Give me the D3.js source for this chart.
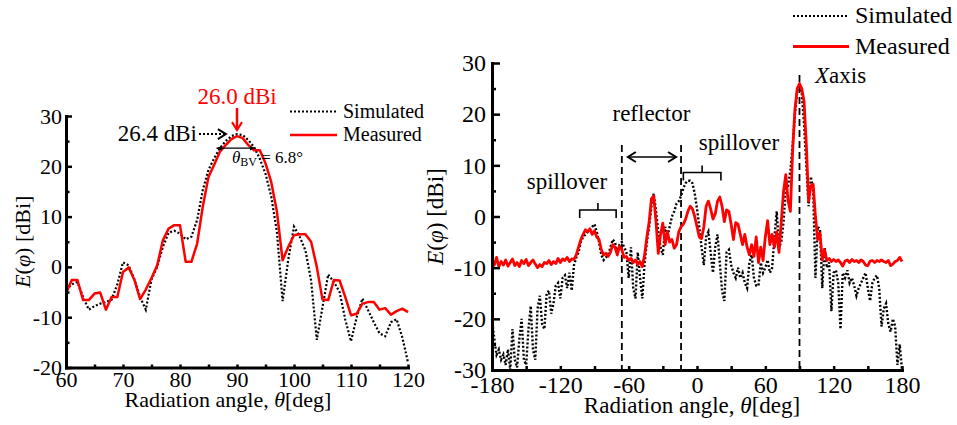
<!DOCTYPE html>
<html>
<head>
<meta charset="utf-8">
<script src="https://cdn.jsdelivr.net/npm/d3@7"></script>
<style>
  body { margin: 0; background: #fff; }
  svg { display: block; font-family: "Liberation Serif", "Times New Roman", serif; }
</style>
</head>
<body>
<svg id="fig" width="957" height="425"></svg>
<script>
// ---- Left panel: main beam, 60..120 deg, 1 deg step ----
const leftAngles = d3.range(60, 121, 1);
const leftSimulated = [
  -4.5, -3.5, -3, -6, -8.5, -7.8, -7.3, -7, -6.5, -3.5,
  0.9, 0.3, -2.5, -6, -8.5, -2.5, 0, 4, 6.8, 7.2,
  6.6, 5.5, 6, 9.3, 15.3, 19.3, 21.6, 23.6, 25, 26,
  26.4, 26.2, 25.2, 23.8, 21.5, 18.5, 14, 7, -6.8, 1.5,
  8, 6, 3.3, -2.7, -14.5, -8, -1.5, -3, -5, -10.5,
  -14.8, -10, -6.3, -8.6, -11, -13.2, -13.8, -11, -10.4, -14,
  -19
];
const leftMeasured = [
  -5.3, -2.6, -2.6, -6.6, -6.6, -5.3, -5.1, -8.5, -6, -6,
  -1, -0.1, -2.6, -6.4, -4.5, -2.2, 0.3, 5.3, 7.6, 8.3,
  8.3, 1, 1, 4.6, 12, 17.9, 20.3, 22.9, 24.2, 25.4,
  26, 25.6, 24.2, 23.2, 23.2, 20.6, 16.9, 11, 1.3, 4,
  6.3, 6.5, 6.5, 5, 0, -6.5, -6.6, -2.6, -2.7, -6,
  -9.6, -9.3, -7.3, -7, -7, -8.5, -8.2, -9.5, -8.8, -8.3,
  -9
];
const leftXTicks = [60, 70, 80, 90, 100, 110, 120];
const leftYTicks = [-20, -10, 0, 10, 20, 30];
const simPeak = 26.4, simPeakAngle = 88.4;
const measPeak = 26.0, measPeakAngle = 90;
const beamwidth = 6.8, beamCenter = 89.8, beamLevel = 23.6;

// ---- Right panel: full cut, -180..180 deg, 2 deg step ----
const rightAngles = d3.range(-180, 181, 2);
const rightSimulated = [
  -20, -24, -27, -26, -28, -27, -29, -26, -30, -22,
  -28, -29.5, -24, -20, -28, -29, -22, -17.5, -26, -28,
  -18, -15.5, -21, -22, -15, -14.5, -19, -17, -13.5, -13,
  -16, -12, -11.5, -14, -11, -14.5, -9.5, -8, -7, -5,
  -4, -3.5, -3, -2.5, -2, -1.5, -3, -5, -7.5, -8.5,
  -8, -7.5, -6, -4.5, -5, -7, -5.5, -5, -6, -7,
  -12, -6, -14, -16, -7, -12, -16, -9, -5, -2,
  2, 4.5, 1, -3, -6, -7.5, -2, -4, -2, 0,
  1, 2.5, 3, 4, 5.5, 6.5, 7, 7, 6.5, 4.5,
  1.5, -2, -6, -9.5, -4, -3, -7, -11, -6, -3.5,
  -9, -14.5, -16.5, -7, -6.5, -9.5, -11, -12, -10, -12,
  -11, -13, -14, -9, -7.5, -12, -13.5, -13.5, -9, -11,
  -10, -8.5, -11, -10, -4, 1, -6, -5, -1, 5.5,
  6, 9, 14, 20, 24.5, 25.8, 24, 18, 10, 2,
  7.8, 5, -12, -2, -2.5, -14, -6, -10, -9, -18.5,
  -11, -10.5, -13, -22, -11, -12, -10.5, -13, -12, -13.5,
  -15.5, -14, -13, -12, -11, -14, -16.5, -13, -12, -11.5,
  -14, -21.5, -18, -17, -21, -22.5, -20, -21.5, -29, -25,
  -30
];
const rightMeasured = [
  -9, -9.5, -8, -9.8, -8.8, -9.5, -8.5, -9.7, -9, -8.3,
  -9.6, -9, -9.8, -8.6, -9.2, -8.4, -9.6, -9, -8.5, -9.3,
  -10, -9.4, -9.8, -9, -9.2, -8.6, -9.4, -8.8, -9.2, -8.2,
  -9, -8.3, -8.6, -8, -8.8, -8.3, -8.4, -7.5, -6, -4.5,
  -3.5, -2.6, -3, -2.4, -3.5, -2.8, -4, -4.5, -6.5, -7.5,
  -7.2, -7.8, -7, -5.5, -6, -7.5, -5.8, -6.5, -8, -7.8,
  -8.6, -8.2, -9, -8.5, -9.4, -8.8, -9.8, -7.5, -4, -1,
  3.5, 4, -1, -7.2, -3.5, -1.3, -5.5, -3, -5, -4.5,
  -6.2, -5.5, -3, -2, -1.5, -0.5, 1, 2, 1.5, 0,
  -2, -4, -4.3, -2, 2, 3, 1.5, -0.5, 0.5, 3,
  3.8, 2, -1, 1.3, 1, -1.5, -4.5, -1.2, -1.5, -3.5,
  -5.5, -3.5, -6, -7.5, -5.5, -7.8, -4, -9, -6, -8.6,
  -4, -0.8, -5.5, -3.5, -6, -3, -7, -1, 5, 8.2,
  3, 1, 13, 21, 25, 26, 25, 22.5, 14, 3,
  6, 6.3, 0, -4.5, -3.2, -8.5, -6.5, -8.6, -8.2, -8.8,
  -8.4, -8.8, -8.5, -9, -9.7, -8.7, -8.5, -9, -8.4, -8.8,
  -8.6, -9, -8.5, -8.8, -9.5, -9.6, -8.7, -8.6, -9, -8.6,
  -8.8, -8.5, -8.8, -9, -8.6, -9.6, -9.3, -8.8, -8.6, -8,
  -8.8
];
const rightXTicks = [-180, -120, -60, 0, 60, 120, 180];
const rightYTicks = [-30, -20, -10, 0, 10, 20, 30];
const reflectorEdges = [-66, -14];
const boresightAngle = 90;
const spillLeft = [-103, -71];   // bracket span of the rear spillover lobe
const spillRight = [-12, 21];    // bracket span of the forward spillover lobe
const seriesNames = ["Simulated", "Measured"];

const RED = "#ff0000";
const svg = d3.select("#fig");

const defs = svg.append("defs");
function chevron(id, color, size) {
  defs.append("marker").attr("id", id)
    .attr("viewBox", "-10 -6 12 12").attr("refX", 0).attr("refY", 0)
    .attr("markerWidth", size).attr("markerHeight", size)
    .attr("markerUnits", "userSpaceOnUse").attr("orient", "auto-start-reverse")
    .append("path").attr("d", "M-8,-5L0,0L-8,5")
    .attr("fill", "none").attr("stroke", color).attr("stroke-width", 2);
}
chevron("arrBlack", "#000", 12);
chevron("arrRed", RED, 12);
defs.append("marker").attr("id", "arrSmall")
  .attr("viewBox", "-8 -4 9 8").attr("refX", 0).attr("refY", 0)
  .attr("markerWidth", 7).attr("markerHeight", 6)
  .attr("markerUnits", "userSpaceOnUse").attr("orient", "auto-start-reverse")
  .append("path").attr("d", "M-7,-3L0,0L-7,3Z").attr("fill", "#000");

// inward ticks: majors carry labels, minors are unlabeled
function drawAxes(g, x, y, o) {
  const xt = d3.range(x.domain()[0], x.domain()[1] + 1e-9, o.xMinor);
  const yt = d3.range(y.domain()[0], y.domain()[1] + 1e-9, o.yMinor);
  const ax = g.append("g").attr("transform", `translate(0,${y.range()[0]})`)
    .call(d3.axisBottom(x).tickValues(xt).tickSizeOuter(0).tickSizeInner(-o.xTick)
      .tickPadding(o.xPad).tickFormat(d => o.xMajor.includes(d) ? String(d) : ""));
  const ay = g.append("g").attr("transform", `translate(${x.range()[0]},0)`)
    .call(d3.axisLeft(y).tickValues(yt).tickSizeOuter(0).tickSizeInner(-o.yTickMinor)
      .tickPadding(o.yPad).tickFormat(d => o.yMajor.includes(d) ? String(d) : ""));
  ay.selectAll(".tick").filter(d => o.yMajor.includes(d)).select("line").attr("x2", o.yTickMajor);
  [ax, ay].forEach(a => {
    a.select(".domain").attr("stroke", "#000").attr("stroke-width", 3).attr("stroke-linecap", "square");
    a.selectAll(".tick line").attr("stroke", "#000").attr("stroke-width", 2.5);
    a.selectAll("text").attr("font-family", "Liberation Serif").attr("font-size", o.font).attr("fill", "#000");
  });
}

function yTitle(g, x, yc, size) {
  const t = g.append("text").attr("transform", `translate(${x},${yc}) rotate(-90)`)
    .attr("text-anchor", "middle").attr("font-size", size);
  t.append("tspan").attr("font-style", "italic").text("E");
  t.append("tspan").text("(");
  t.append("tspan").attr("font-style", "italic").text("\u03c6");
  t.append("tspan").text(") [dBi]");
}
function xTitle(g, xc, y, size) {
  const t = g.append("text").attr("x", xc).attr("y", y).attr("text-anchor", "middle").attr("font-size", size);
  t.append("tspan").text("Radiation angle, ");
  t.append("tspan").attr("font-style", "italic").text("\u03b8");
  t.append("tspan").text("[deg]");
}
function legend(g, x0, x1, yS, yM, size, width) {
  [yS, yM].forEach((yy, i) => {
    g.append("line").attr("x1", x0).attr("x2", x1).attr("y1", yy).attr("y2", yy)
      .attr("stroke", i ? RED : "#000").attr("stroke-width", i ? width : 2)
      .attr("stroke-dasharray", i ? null : "2 2");
    g.append("text").attr("x", x1 + 6).attr("y", yy + size * 0.3).attr("font-size", size).text(seriesNames[i]);
  });
}

// ================= Left panel =================
const xL = d3.scaleLinear().domain([60, 120]).range([66, 408]);
const yL = d3.scaleLinear().domain([-20, 30]).range([367.5, 116]);
const gL = svg.append("g");

const lineL = (vals) => d3.line().x((d, i) => xL(leftAngles[i])).y(d => yL(d))(vals);
gL.append("path").attr("d", lineL(leftSimulated)).attr("fill", "none")
  .attr("stroke", "#000").attr("stroke-width", 2.2).attr("stroke-dasharray", "2 2");
gL.append("path").attr("d", lineL(leftMeasured)).attr("fill", "none")
  .attr("stroke", RED).attr("stroke-width", 2.5).attr("stroke-linejoin", "round");

drawAxes(gL, xL, yL, { xMinor: 5, yMinor: 5, xMajor: leftXTicks, yMajor: leftYTicks,
  xTick: 3, yTickMajor: 6, yTickMinor: 3.5, xPad: 4, yPad: 4, font: 22 });
yTitle(gL, 30, (yL.range()[0] + yL.range()[1]) / 2, 22);
xTitle(gL, 228, 407, 22);
legend(gL, 290, 337, 111.5, 135, 20, 2.5);

// measured peak label + arrow
gL.append("text").attr("x", xL(measPeakAngle)).attr("y", 104).attr("text-anchor", "middle")
  .attr("font-size", 23).attr("fill", RED).text(`${measPeak.toFixed(1)} dBi`);
gL.append("line").attr("x1", xL(measPeakAngle)).attr("x2", xL(measPeakAngle))
  .attr("y1", 108).attr("y2", yL(measPeak) - 6)
  .attr("stroke", RED).attr("stroke-width", 2.5).attr("marker-end", "url(#arrRed)");
// simulated peak label + dotted arrow
gL.append("text").attr("x", 197).attr("y", 141).attr("text-anchor", "end")
  .attr("font-size", 23).text(`${simPeak.toFixed(1)} dBi`);
gL.append("line").attr("x1", 199).attr("x2", xL(simPeakAngle) - 2)
  .attr("y1", yL(simPeak)).attr("y2", yL(simPeak))
  .attr("stroke", "#000").attr("stroke-width", 2).attr("stroke-dasharray", "2 2")
  .attr("marker-end", "url(#arrBlack)");
// half-power beamwidth
gL.append("line").attr("x1", xL(beamCenter - beamwidth / 2)).attr("x2", xL(beamCenter + beamwidth / 2))
  .attr("y1", yL(beamLevel)).attr("y2", yL(beamLevel))
  .attr("stroke", "#000").attr("stroke-width", 1.2)
  .attr("marker-start", "url(#arrSmall)").attr("marker-end", "url(#arrSmall)");
const bw = gL.append("text").attr("x", 232).attr("y", 163).attr("font-size", 17);
bw.append("tspan").attr("font-style", "italic").text("\u03b8");
bw.append("tspan").attr("font-size", 12).attr("dy", 3).text("BV");
bw.append("tspan").attr("dy", -3).text(` = ${beamwidth}\u00b0`);

// ================= Right panel =================
const xR = d3.scaleLinear().domain([-180, 180]).range([492, 902]);
const yR = d3.scaleLinear().domain([-30, 30]).range([370, 63]);
const gR = svg.append("g");

// guide lines: reflector edges and boresight
reflectorEdges.forEach(a => gR.append("line").attr("x1", xR(a)).attr("x2", xR(a))
  .attr("y1", 145).attr("y2", yR(-30)).attr("stroke", "#000").attr("stroke-width", 1.8)
  .attr("stroke-dasharray", "7 4"));
gR.append("line").attr("x1", xR(boresightAngle)).attr("x2", xR(boresightAngle))
  .attr("y1", 75).attr("y2", yR(-30)).attr("stroke", "#000").attr("stroke-width", 1.8)
  .attr("stroke-dasharray", "7 4");

const lineR = (vals) => d3.line().x((d, i) => xR(rightAngles[i])).y(d => yR(d))(vals);
gR.append("path").attr("d", lineR(rightSimulated)).attr("fill", "none")
  .attr("stroke", "#000").attr("stroke-width", 2.4).attr("stroke-dasharray", "2 2");
gR.append("path").attr("d", lineR(rightMeasured)).attr("fill", "none")
  .attr("stroke", RED).attr("stroke-width", 2.8).attr("stroke-linejoin", "round");

drawAxes(gR, xR, yR, { xMinor: 30, yMinor: 5, xMajor: rightXTicks, yMajor: rightYTicks,
  xTick: 4, yTickMajor: 8, yTickMinor: 4, xPad: 6, yPad: 6, font: 24 });
yTitle(gR, 443, (yR.range()[0] + yR.range()[1]) / 2, 23);
xTitle(gR, 692, 413, 23);
legend(gR, 793, 849, 16, 46.5, 24, 3);

// reflector span arrow
gR.append("line").attr("x1", xR(reflectorEdges[0]) + 6).attr("x2", xR(reflectorEdges[1]) - 5)
  .attr("y1", 157).attr("y2", 157).attr("stroke", "#000").attr("stroke-width", 1.5)
  .attr("marker-start", "url(#arrBlack)").attr("marker-end", "url(#arrBlack)");
gR.append("text").attr("x", (xR(reflectorEdges[0]) + xR(reflectorEdges[1])) / 2).attr("y", 121)
  .attr("text-anchor", "middle").attr("font-size", 23).text("reflector");

// spillover brackets
function bracket(a0, a1, yTop) {
  const x0 = xR(a0), x1 = xR(a1), xm = (x0 + x1) / 2;
  gR.append("path").attr("d", `M${x0},${yTop + 8}V${yTop}H${x1}V${yTop + 8}M${xm},${yTop}V${yTop - 7}`)
    .attr("fill", "none").attr("stroke", "#000").attr("stroke-width", 1.6);
}
bracket(spillLeft[0], spillLeft[1], 210);
bracket(spillRight[0], spillRight[1], 172.5);
gR.append("text").attr("x", 567).attr("y", 189).attr("text-anchor", "middle")
  .attr("font-size", 23).text("spillover");
gR.append("text").attr("x", 739).attr("y", 150).attr("text-anchor", "middle")
  .attr("font-size", 23).text("spillover");

const xa = gR.append("text").attr("x", 815).attr("y", 83).attr("font-size", 23);
xa.append("tspan").attr("font-style", "italic").text("X");
xa.append("tspan").text("axis");
</script>
</body>
</html>
